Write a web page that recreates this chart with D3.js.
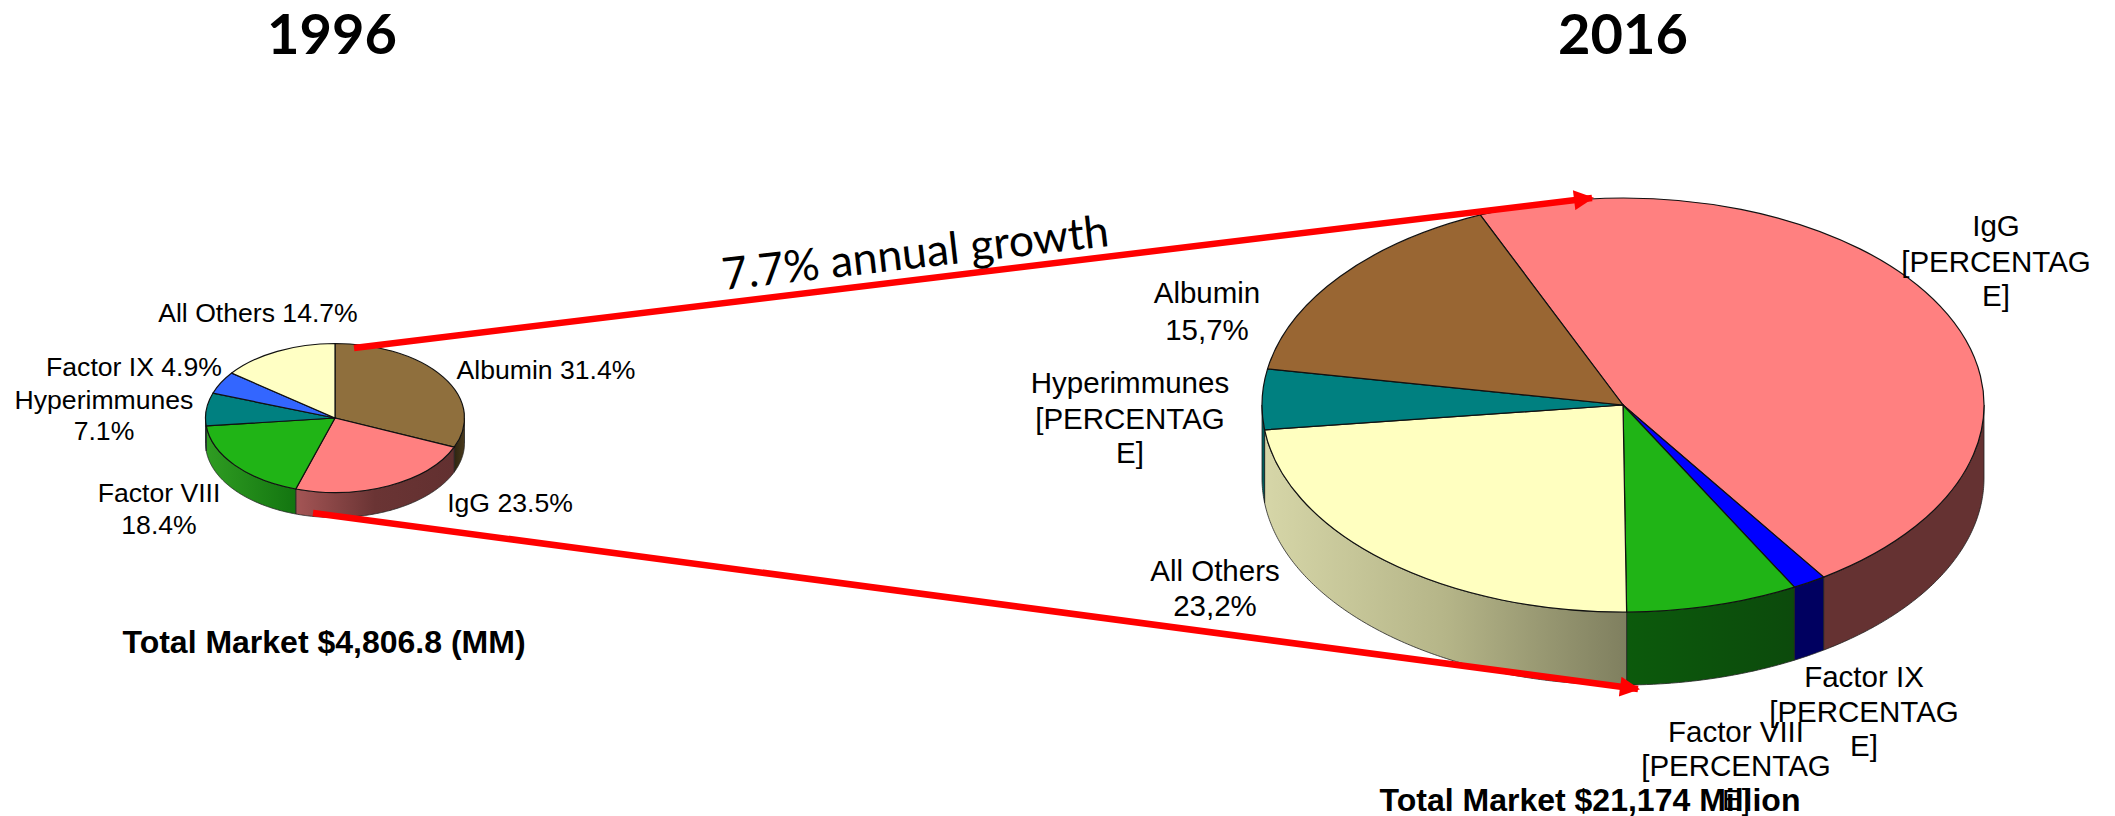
<!DOCTYPE html>
<html><head><meta charset="utf-8">
<script src="https://cdnjs.cloudflare.com/ajax/libs/d3/7.8.5/d3.min.js"></script>
<style>html,body{margin:0;background:#fff}svg{display:block}</style></head>
<body><svg id="c" width="2115" height="816"></svg>
<script>
const categories1996 = ["Albumin","IgG","Factor VIII","Hyperimmunes","Factor IX","All Others"];
const values1996 = [31.4,23.5,18.4,7.1,4.9,14.7];
const colors1996 = ["#8f6f3d","#ff8080","#20b416","#008080","#3366ff","#ffffc4"];
const walls1996 = [["#2e2510","#4a3a1c"],["#a45555","#6a3434","#623030"],["#2f9c22","#137510"],["#005c5c","#005c5c"],["#1f3fa0","#1f3fa0"],["#999975","#999975"]];

const categories2016 = ["IgG","Factor IX","Factor VIII","All Others","Hyperimmunes","Albumin"];
const values2016 = [47.0,1.5,7.7,23.2,4.7,15.7];
const colors2016 = ["#ff8080","#0000ff","#20b416","#ffffc0","#008080","#996633"];
const walls2016 = [["#653232","#653232"],["#000060","#000060"],["#0c5a0c","#0c4a0c"],["#d6d6a8","#b5b588","#7f7f5f"],["#005c5c","#005c5c"],["#553b1c","#553b1c"]];

const pieLayouts = [
  {key:"a",values:values1996,colors:colors1996,walls:walls1996,cx:335,cy:418,rx:129.5,ry:74.5,depth:25,start:0},
  {key:"b",values:values2016,colors:colors2016,walls:walls2016,cx:1623,cy:405,rx:361,ry:207,depth:73,start:-23.3}
];
const labels = [
 ["1996",332,54,"t"],["2016",1623,54,"t"],
 ["Total Market $4,806.8 (MM)",324,653,"b"],
 ["Total Market $21,174 Million",1590,811,"b"],
 ["All Others 14.7%",258,322,"s"],["Albumin 31.4%",546,379,"s"],["Factor IX 4.9%",134,376,"s"],
 ["Hyperimmunes",104,409,"s"],["7.1%",104,440,"s"],["Factor VIII",159,502,"s"],["18.4%",159,534,"s"],["IgG 23.5%",510,512,"s"],
 ["IgG",1996,236,"m"],["[PERCENTAG",1996,272,"m"],["E]",1996,306,"m"],
 ["Albumin",1207,303,"m"],["15,7%",1207,340,"m"],
 ["Hyperimmunes",1130,393,"m"],["[PERCENTAG",1130,429,"m"],["E]",1130,463,"m"],
 ["All Others",1215,581,"m"],["23,2%",1215,616,"m"],
 ["Factor IX",1864,687,"m"],["[PERCENTAG",1864,722,"m"],["E]",1864,756,"m"],
 ["Factor VIII",1736,742,"m"],["[PERCENTAG",1736,776,"m"],["E]",1736,810,"m"]
];
const labelFonts = {t:["Lato","bold",56],b:["'Liberation Sans'","bold",32],s:["'Liberation Sans'","normal",26.6],m:["'Liberation Sans'","normal",29.5]};
const growthLabel = "7.7% annual growth";
const arrows = [[354,348,1592,198],[313,513,1638,689]];

const svg = d3.select("#c");
const defs = svg.append("defs");
defs.append("marker").attr("id","ah").attr("viewBox","0 0 10 10").attr("refX",9).attr("refY",5)
 .attr("markerUnits","userSpaceOnUse").attr("markerWidth",22).attr("markerHeight",20).attr("orient","auto")
 .append("path").attr("d","M0,0L10,5L0,10Z").attr("fill","#ff0000");
const tau = Math.PI*2;

pieLayouts.forEach(p=>{
  const a0 = p.start*Math.PI/180;
  const arcs = d3.pie().sort(null).startAngle(a0).endAngle(a0+tau)(p.values);
  const g = svg.append("g").attr("transform",`translate(${p.cx},${p.cy})`);
  const area = d3.area().x(a=>p.rx*Math.sin(a)).y0(a=>-p.ry*Math.cos(a)).y1(a=>-p.ry*Math.cos(a)+p.depth);
  arcs.forEach((d,i)=>{
    [0,tau,-tau].forEach(k=>{
      const s=Math.max(d.startAngle+k,Math.PI/2), e=Math.min(d.endAngle+k,Math.PI*1.5);
      if(e<=s) return;
      const id=`w${p.key}${i}`;
      const x0=p.rx*Math.sin(s),x1=p.rx*Math.sin(e);
      const lg=defs.append("linearGradient").attr("id",id).attr("gradientUnits","userSpaceOnUse")
        .attr("x1",Math.min(x0,x1)).attr("x2",Math.max(x0,x1)).attr("y1",0).attr("y2",0);
      const cols=p.walls[i];
      cols.forEach((c,j)=>lg.append("stop").attr("offset",j/(cols.length-1)).attr("stop-color",c));
      const pts=d3.range(s,e,0.01).concat([e]);
      g.append("path").attr("d",area(pts)).attr("fill",`url(#${id})`).attr("stroke","#222").attr("stroke-width",0.8);
    });
  });
  const top=g.append("g").attr("transform",`scale(1,${p.ry/p.rx})`);
  top.selectAll("path").data(arcs).join("path")
    .attr("d",d3.arc().innerRadius(0).outerRadius(p.rx))
    .attr("fill",(d,i)=>p.colors[i]).attr("stroke","#111").attr("stroke-width",1.2)
    .attr("vector-effect","non-scaling-stroke");
});

svg.selectAll("line.ar").data(arrows).join("line").attr("class","ar")
  .attr("x1",d=>d[0]).attr("y1",d=>d[1]).attr("x2",d=>d[2]).attr("y2",d=>d[3])
  .attr("stroke","#ff0000").attr("stroke-width",6.5).attr("marker-end","url(#ah)");

svg.selectAll("text.l").data(labels).join("text").attr("class","l")
  .attr("x",d=>d[1]).attr("y",d=>d[2]).attr("text-anchor","middle")
  .attr("font-family",d=>labelFonts[d[3]][0])
  .attr("font-weight",d=>labelFonts[d[3]][1])
  .attr("font-size",d=>labelFonts[d[3]][2])
  .attr("fill","#000").text(d=>d[0]);
svg.append("text").attr("transform","translate(917,268) rotate(-6.5)").attr("text-anchor","middle")
  .attr("font-family","Lato").attr("font-size",44.5).attr("fill","#000").text(growthLabel);
</script></body></html>
